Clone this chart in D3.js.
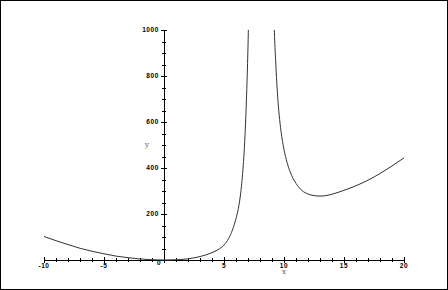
<!DOCTYPE html>
<html>
<head>
<meta charset="utf-8">
<script src="https://cdn.jsdelivr.net/npm/d3@7"></script>
<style>
  html, body { margin: 0; padding: 0; background: #fff; }
  svg { display: block; }
  .tick-label { font-family: "Liberation Sans", Arial, sans-serif; font-weight: bold; font-size: 6.5px; fill: #000; letter-spacing: 0.6px; }
  .axis-title { font-family: "DejaVu Serif", serif; font-size: 7px; fill: #555; }
</style>
</head>
<body>
<div id="chart"></div>
<script>
// values
const leftX = [-10, -9, -8, -7, -6, -5, -4, -3, -2, -1, 0, 1, 2, 3, 4, 4.5, 5, 5.4, 5.7, 6, 6.2, 6.4, 6.5, 6.6, 6.7, 6.8, 6.9, 7.0, 7.05];
const leftY = [102, 84, 67, 51, 38, 27, 17, 10, 4.5, 1.2, 0, 1.2, 5, 15, 32, 45, 65, 95, 130, 180, 225, 295, 345, 410, 490, 600, 745, 930, 1050];
const rightX = [9.15, 9.2, 9.3, 9.4, 9.5, 9.6, 9.75, 10, 10.25, 10.5, 10.75, 11, 11.5, 12, 12.5, 13, 13.5, 14, 15, 16, 17, 18, 19, 20];
const rightY = [1080, 990, 870, 770, 690, 630, 560, 480, 425, 385, 355, 333, 302, 287, 280, 278, 280, 286, 303, 323, 347, 376, 409, 444];
const xTicks = [-10, -5, 0, 5, 10, 15, 20];
const yTicks = [200, 400, 600, 800, 1000];
const xTickLabels = ["-10", "-5", "0", "5", "10", "15", "20"];
const yTickLabels = ["200", "400", "600", "800", "1000"];

const W = 448, H = 290;
const svg = d3.select("#chart").append("svg").attr("width", W).attr("height", H);

// frame round the picture
svg.append("rect").attr("x", 0.5).attr("y", 0.5).attr("width", W - 1).attr("height", H - 1)
  .attr("fill", "#fff").attr("stroke", "#000");

const x = d3.scaleLinear().domain([-10, 20]).range([44, 404]);
const y = d3.scaleLinear().domain([0, 1000]).range([260, 30]);

svg.append("clipPath").attr("id", "plot")
  .append("rect").attr("x", x(-10)).attr("y", y(1000)).attr("width", x(20) - x(-10)).attr("height", y(0) - y(1000) + 1);

const g = svg.append("g");
const ax = g.append("g").attr("stroke", "#000").attr("stroke-width", 1);

// x axis
ax.append("line").attr("x1", x(-10)).attr("x2", x(20)).attr("y1", y(0) + 0.5).attr("y2", y(0) + 0.5);
ax.selectAll(".xmin").data(x.ticks(30)).join("line")
  .attr("x1", d => Math.round(x(d)) + 0.5).attr("x2", d => Math.round(x(d)) + 0.5)
  .attr("y1", d => y(0) - (xTicks.includes(d) ? 3 : 2)).attr("y2", d => y(0) + (xTicks.includes(d) ? 3 : 2));

// y axis
ax.append("line").attr("x1", x(0) + 0.5).attr("x2", x(0) + 0.5).attr("y1", y(0)).attr("y2", y(1000));
ax.selectAll(".ymin").data(y.ticks(25).filter(d => d > 0)).join("line")
  .attr("y1", d => Math.round(y(d)) + 0.5).attr("y2", d => Math.round(y(d)) + 0.5)
  .attr("x1", d => x(0) - (yTicks.includes(d) ? 3 : 2)).attr("x2", d => x(0) + (yTicks.includes(d) ? 3 : 2));

// tick labels
g.selectAll(".xl").data(xTicks).join("text")
  .attr("class", "tick-label")
  .attr("x", d => d === 0 ? x(d) - 5 : x(d))
  .attr("y", d => d === 0 ? y(0) + 4.5 : y(0) + 7.5)
  .attr("text-anchor", "middle")
  .text((d, i) => xTickLabels[i]);

g.selectAll(".yl").data(yTicks).join("text")
  .attr("class", "tick-label")
  .attr("x", x(0) - 5)
  .attr("y", d => y(d) + 2.3)
  .attr("text-anchor", "end")
  .text((d, i) => yTickLabels[i]);

g.append("text").attr("class", "axis-title").attr("x", x(10)).attr("y", 274).attr("text-anchor", "middle").text("x");
g.append("text").attr("class", "axis-title").attr("x", 147).attr("y", y(500) + 2).attr("text-anchor", "middle").text("y");

// curve, two branches either side of the pole
const line = d3.line().x(d => x(d[0])).y(d => y(d[1])).curve(d3.curveMonotoneX);
const branches = [d3.zip(leftX, leftY), d3.zip(rightX, rightY)];
g.append("g").attr("clip-path", "url(#plot)")
  .selectAll("path").data(branches).join("path")
  .attr("d", line)
  .attr("fill", "none")
  .attr("stroke", "#333")
  .attr("stroke-width", 1);
</script>
</body>
</html>
